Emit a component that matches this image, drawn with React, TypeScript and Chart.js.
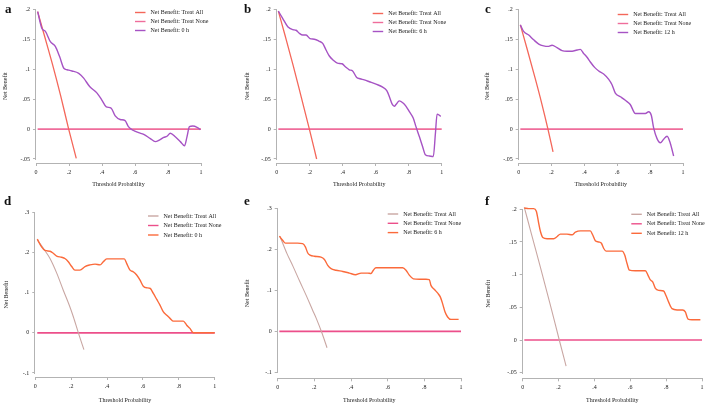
import React, { useEffect, useRef } from "react";
import { Chart, registerables } from "chart.js";
Chart.register(...registerables);

type Pt = [number, number];

const xTicks = [0, 0.2, 0.4, 0.6, 0.8, 1];
const yTicksSmall = [-0.05, 0, 0.05, 0.1, 0.15, 0.2];
const yTicksLarge = [-0.1, 0, 0.1, 0.2, 0.3];

const labelAll = "Net Benefit: Treat All";
const labelNone = "Net Benefit: Treat None";
const labelModels = ["Net Benefit: 0 h", "Net Benefit: 6 h", "Net Benefit: 12 h"];
const xTitle = "Threshold Probability";
const yTitle = "Net Benefit";

// ---- panel a (0 h) ----
const allA: Pt[] = [[0.01, 0.196], [0.05, 0.157], [0.1, 0.108], [0.15, 0.055], [0.198, 0], [0.244, -0.049]];
const noneA: Pt[] = [[0.01, 0], [1, 0]];
const modelA: Pt[] = [[0.01, 0.196], [0.036, 0.168], [0.057, 0.163], [0.087, 0.146], [0.117, 0.138], [0.143, 0.121], [0.17, 0.101], [0.188, 0.099], [0.218, 0.097], [0.259, 0.093], [0.289, 0.085], [0.325, 0.071], [0.37, 0.06], [0.4, 0.048], [0.426, 0.037], [0.455, 0.035], [0.48, 0.022], [0.51, 0.016], [0.54, 0.014], [0.56, 0.004], [0.588, -0.002], [0.622, -0.006], [0.653, -0.009], [0.693, -0.016], [0.723, -0.021], [0.75, -0.018], [0.774, -0.014], [0.794, -0.012], [0.814, -0.007], [0.844, -0.013], [0.875, -0.021], [0.9, -0.028], [0.915, -0.013], [0.93, 0.004], [0.95, 0.005], [0.976, 0.003], [0.996, -0.001]];

// ---- panel b (6 h) ----
const allB: Pt[] = [[0.01, 0.197], [0.05, 0.157], [0.1, 0.106], [0.15, 0.052], [0.198, 0], [0.242, -0.05]];
const noneB: Pt[] = [[0.01, 0], [1, 0]];
const modelB: Pt[] = [[0.01, 0.197], [0.036, 0.185], [0.067, 0.171], [0.097, 0.166], [0.117, 0.165], [0.137, 0.16], [0.158, 0.157], [0.178, 0.157], [0.202, 0.151], [0.228, 0.15], [0.255, 0.147], [0.279, 0.143], [0.299, 0.132], [0.319, 0.122], [0.343, 0.115], [0.368, 0.11], [0.396, 0.109], [0.416, 0.104], [0.44, 0.099], [0.46, 0.097], [0.485, 0.086], [0.505, 0.084], [0.531, 0.082], [0.562, 0.079], [0.602, 0.075], [0.642, 0.07], [0.667, 0.064], [0.683, 0.054], [0.699, 0.042], [0.713, 0.038], [0.723, 0.041], [0.743, 0.047], [0.764, 0.044], [0.784, 0.038], [0.804, 0.029], [0.828, 0.018], [0.844, 0.004], [0.865, -0.013], [0.885, -0.03], [0.901, -0.043], [0.925, -0.045], [0.949, -0.046], [0.962, -0.007], [0.972, 0.025], [0.986, 0.023], [0.994, 0.021]];

// ---- panel c (12 h) ----
const allC: Pt[] = [[0.01, 0.174], [0.05, 0.135], [0.1, 0.085], [0.14, 0.043], [0.178, 0], [0.209, -0.038]];
const noneC: Pt[] = [[0.01, 0], [1, 0]];
const modelC: Pt[] = [[0.01, 0.174], [0.03, 0.163], [0.061, 0.157], [0.091, 0.149], [0.122, 0.142], [0.152, 0.139], [0.178, 0.138], [0.203, 0.14], [0.233, 0.136], [0.264, 0.131], [0.294, 0.13], [0.325, 0.13], [0.355, 0.132], [0.375, 0.133], [0.396, 0.126], [0.416, 0.12], [0.436, 0.112], [0.462, 0.103], [0.487, 0.097], [0.517, 0.092], [0.548, 0.083], [0.568, 0.074], [0.588, 0.06], [0.619, 0.054], [0.649, 0.048], [0.679, 0.041], [0.71, 0.026], [0.74, 0.026], [0.771, 0.026], [0.791, 0.029], [0.807, 0.023], [0.822, 0.001], [0.842, -0.016], [0.862, -0.023], [0.882, -0.017], [0.903, -0.012], [0.923, -0.024], [0.943, -0.045]];

// ---- panel d (0 h) ----
const allD: Pt[] = [[0.011, 0.231], [0.05, 0.207], [0.082, 0.185], [0.12, 0.148], [0.156, 0.106], [0.19, 0.068], [0.212, 0.04], [0.24, 0], [0.271, -0.042]];
const noneD: Pt[] = [[0.011, 0], [1, 0]];
const modelD: Pt[] = [[0.011, 0.233], [0.035, 0.214], [0.054, 0.205], [0.082, 0.203], [0.1, 0.198], [0.119, 0.191], [0.147, 0.188], [0.165, 0.185], [0.184, 0.177], [0.203, 0.165], [0.221, 0.156], [0.249, 0.156], [0.277, 0.165], [0.305, 0.169], [0.333, 0.171], [0.361, 0.169], [0.379, 0.177], [0.398, 0.184], [0.435, 0.184], [0.472, 0.184], [0.496, 0.184], [0.509, 0.173], [0.528, 0.156], [0.546, 0.152], [0.565, 0.144], [0.584, 0.131], [0.602, 0.116], [0.621, 0.112], [0.639, 0.111], [0.658, 0.098], [0.677, 0.083], [0.695, 0.069], [0.714, 0.052], [0.732, 0.044], [0.751, 0.036], [0.77, 0.029], [0.797, 0.029], [0.825, 0.029], [0.844, 0.019], [0.862, 0.011], [0.881, 0], [0.918, 0], [1, 0]];

// ---- panel e (6 h) ----
const allE: Pt[] = [[0.012, 0.232], [0.05, 0.19], [0.083, 0.159], [0.12, 0.122], [0.156, 0.087], [0.19, 0.052], [0.211, 0.031], [0.243, -0.006], [0.269, -0.04]];
const noneE: Pt[] = [[0.009, 0], [1, 0]];
const modelE: Pt[] = [[0.009, 0.232], [0.027, 0.222], [0.042, 0.215], [0.073, 0.215], [0.109, 0.215], [0.136, 0.214], [0.151, 0.206], [0.164, 0.191], [0.176, 0.186], [0.2, 0.183], [0.236, 0.181], [0.255, 0.175], [0.273, 0.161], [0.291, 0.153], [0.318, 0.149], [0.355, 0.146], [0.391, 0.142], [0.424, 0.138], [0.455, 0.142], [0.491, 0.142], [0.509, 0.141], [0.522, 0.149], [0.536, 0.155], [0.573, 0.155], [0.627, 0.155], [0.682, 0.155], [0.7, 0.149], [0.718, 0.137], [0.74, 0.128], [0.773, 0.127], [0.809, 0.127], [0.827, 0.126], [0.836, 0.112], [0.855, 0.102], [0.873, 0.093], [0.887, 0.084], [0.9, 0.067], [0.913, 0.047], [0.927, 0.035], [0.945, 0.029], [0.973, 0.029], [0.987, 0.029]];

// ---- panel f (12 h) ----
const allF: Pt[] = [[0.009, 0.203], [0.05, 0.161], [0.1, 0.11], [0.15, 0.058], [0.204, 0], [0.242, -0.04]];
const noneF: Pt[] = [[0.009, 0], [1, 0]];
const modelF: Pt[] = [[0.009, 0.202], [0.033, 0.201], [0.061, 0.201], [0.076, 0.197], [0.089, 0.179], [0.099, 0.166], [0.112, 0.157], [0.136, 0.155], [0.173, 0.155], [0.191, 0.158], [0.21, 0.162], [0.247, 0.162], [0.275, 0.161], [0.294, 0.165], [0.322, 0.167], [0.349, 0.167], [0.377, 0.167], [0.39, 0.161], [0.405, 0.152], [0.424, 0.15], [0.439, 0.148], [0.452, 0.14], [0.465, 0.136], [0.498, 0.136], [0.535, 0.136], [0.554, 0.136], [0.569, 0.13], [0.582, 0.117], [0.595, 0.107], [0.628, 0.106], [0.665, 0.106], [0.684, 0.106], [0.699, 0.099], [0.712, 0.092], [0.725, 0.089], [0.74, 0.079], [0.758, 0.076], [0.786, 0.075], [0.799, 0.068], [0.814, 0.058], [0.833, 0.048], [0.861, 0.046], [0.892, 0.046], [0.907, 0.043], [0.922, 0.032], [0.944, 0.031], [0.991, 0.031]];

// ---- styling ----
const SERIF = '"Liberation Serif", "Times New Roman", Times, serif';
const AXIS = "#b3b3b3";
const TEXT = "#222222";
const paletteTop = { all: "#f4675a", none: "#ef6d9b", model: "#a653c4", allWidth: 1.3 };
const paletteBottom = { all: "#c9a7a3", none: "#ec4f8a", model: "#fb6a3b", allWidth: 1.1 };

const fmt = (v: number | string) => {
  const r = Math.round(Number(v) * 1000) / 1000;
  if (r === 0) return "0";
  return String(r).replace(/^(-?)0\./, "$1.");
};

const panels = [
  { letter: "a", model: modelA, all: allA, none: noneA, label: labelModels[0], pal: paletteTop, yTicks: yTicksSmall, yMin: -0.0567, yMax: 0.2,
    box: { left: 0, top: 0, width: 236, height: 200 }, pad: { left: 2.1, top: 9.3, right: 35, bottom: 12.4 }, yw: 33.9, xh: 24.6,
    legend: { x: 135, y: 12.5, gap: 9 }, letterPos: { x: 5, y: 2 } },
  { letter: "b", model: modelB, all: allB, none: noneB, label: labelModels[1], pal: paletteTop, yTicks: yTicksSmall, yMin: -0.0567, yMax: 0.2,
    box: { left: 236, top: 0, width: 236, height: 200 }, pad: { left: 7.4, top: 9.3, right: 30.3, bottom: 12.1 }, yw: 33.3, xh: 24.9,
    legend: { x: 136.7, y: 13.5, gap: 9 }, letterPos: { x: 244, y: 2 } },
  { letter: "c", model: modelC, all: allC, none: noneC, label: labelModels[2], pal: paletteTop, yTicks: yTicksSmall, yMin: -0.0567, yMax: 0.2,
    box: { left: 472, top: 0, width: 236, height: 200 }, pad: { left: 11.4, top: 9.3, right: 25, bottom: 12.1 }, yw: 35.3, xh: 24.9,
    legend: { x: 145.7, y: 14.5, gap: 9 }, letterPos: { x: 485, y: 2 } },
  { letter: "d", model: modelD, all: allD, none: noneD, label: labelModels[0], pal: paletteBottom, yTicks: yTicksLarge, yMin: -0.11, yMax: 0.3,
    box: { left: 0, top: 200, width: 236, height: 206 }, pad: { left: 2.4, top: 12.3, right: 21.3, bottom: 2.4 }, yw: 32.9, xh: 26.6,
    legend: { x: 148, y: 16, gap: 9.5 }, letterPos: { x: 4, y: 194 } },
  { letter: "e", model: modelE, all: allE, none: noneE, label: labelModels[1], pal: paletteBottom, yTicks: yTicksLarge, yMin: -0.1146, yMax: 0.3,
    box: { left: 236, top: 200, width: 236, height: 206 }, pad: { left: 8.1, top: 8.3, right: 11, bottom: 2.4 }, yw: 33.6, xh: 25.3,
    legend: { x: 151.7, y: 14, gap: 9.3 }, letterPos: { x: 244, y: 194 } },
  { letter: "f", model: modelF, all: allF, none: noneF, label: labelModels[2], pal: paletteBottom, yTicks: yTicksSmall, yMin: -0.0586, yMax: 0.2,
    box: { left: 472, top: 200, width: 236, height: 206 }, pad: { left: 13.1, top: 9.3, right: 6, bottom: 2.4 }, yw: 37.6, xh: 25.3,
    legend: { x: 159.3, y: 14.3, gap: 9.5 }, letterPos: { x: 485, y: 194 } },
];

type PanelCfg = (typeof panels)[number];

const decorPlugin = {
  id: "panelDecor",
  afterDraw(chart: any, _args: any, opts: any) {
    const { ctx, chartArea, scales } = chart;
    const y = scales.y;
    const ticks: number[] = opts.yTicks;
    const yTop = y.getPixelForValue(Math.max(...ticks));
    const yBot = y.getPixelForValue(Math.min(...ticks));
    ctx.save();
    ctx.strokeStyle = AXIS;
    ctx.lineWidth = 1;
    const xl = Math.round(chartArea.left) - 0.5;
    ctx.beginPath();
    ctx.moveTo(xl, Math.round(yTop));
    ctx.lineTo(xl, Math.round(yBot) + 1);
    ctx.stroke();
    // legend
    ctx.font = `6px ${SERIF}`;
    ctx.textBaseline = "middle";
    ctx.textAlign = "left";
    chart.data.datasets.forEach((ds: any, i: number) => {
      const yy = opts.legendY + i * opts.legendGap;
      ctx.strokeStyle = ds.borderColor;
      ctx.lineWidth = 1.4;
      ctx.beginPath();
      ctx.moveTo(opts.legendX, yy);
      ctx.lineTo(opts.legendX + 10.5, yy);
      ctx.stroke();
      ctx.fillStyle = TEXT;
      ctx.fillText(ds.label, opts.legendX + 15.5, yy);
    });
    ctx.restore();
  },
};

function Panel({ p }: { p: PanelCfg }) {
  const ref = useRef<HTMLCanvasElement | null>(null);
  useEffect(() => {
    if (!ref.current) return;
    const toPts = (arr: Pt[]) => arr.map(([x, y]) => ({ x, y }));
    const font = { family: SERIF, size: 6 };
    const chart = new Chart(ref.current, {
      type: "line",
      data: {
        datasets: [
          { label: labelAll, data: toPts(p.all), borderColor: p.pal.all, borderWidth: p.pal.allWidth, order: 1, cubicInterpolationMode: "monotone" },
          { label: labelNone, data: toPts(p.none), borderColor: p.pal.none, borderWidth: 1.7, order: 2 },
          { label: p.label, data: toPts(p.model), borderColor: p.pal.model, borderWidth: 1.4, order: 0, cubicInterpolationMode: "monotone" },
        ] as any,
      },
      options: {
        animation: false,
        responsive: false,
        devicePixelRatio: 1,
        events: [],
        layout: { padding: p.pad },
        elements: { point: { radius: 0 }, line: { fill: false } },
        datasets: { line: { clip: 6 } } as any,
        plugins: {
          legend: { display: false },
          tooltip: { enabled: false },
          panelDecor: { yTicks: p.yTicks, legendX: p.legend.x, legendY: p.legend.y, legendGap: p.legend.gap },
        } as any,
        scales: {
          x: {
            type: "linear",
            min: 0,
            max: 1,
            afterBuildTicks: (s: any) => { s.ticks = xTicks.map((v) => ({ value: v })); },
            afterFit: (s: any) => { s.height = p.xh; },
            ticks: { callback: (v: any) => fmt(v), font, color: TEXT, padding: 3, maxRotation: 0, autoSkip: false },
            grid: { display: true, drawOnChartArea: false, drawTicks: true, tickLength: 3, color: AXIS },
            border: { display: true, color: AXIS, width: 1 },
            title: { display: true, text: xTitle, font, color: TEXT, padding: 0 },
          },
          y: {
            type: "linear",
            min: p.yMin,
            max: p.yMax,
            afterBuildTicks: (s: any) => { s.ticks = p.yTicks.map((v) => ({ value: v })); },
            afterFit: (s: any) => { s.width = p.yw; },
            ticks: { callback: (v: any) => fmt(v), font, color: TEXT, padding: 3, autoSkip: false },
            grid: { display: true, drawOnChartArea: false, drawTicks: true, tickLength: 3, color: AXIS },
            border: { display: false },
            title: { display: true, text: yTitle, font, color: TEXT, padding: 0 },
          },
        } as any,
      },
      plugins: [decorPlugin as any],
    });
    return () => chart.destroy();
  }, [p]);
  return (
    <canvas
      ref={ref}
      width={p.box.width}
      height={p.box.height}
      style={{ position: "absolute", left: p.box.left, top: p.box.top, width: p.box.width, height: p.box.height, display: "block" }}
    />
  );
}

export default function App() {
  return (
    <div style={{ position: "fixed", left: 0, top: 0, width: 708, height: 406, background: "#ffffff", overflow: "hidden" }}>
      {panels.map((p) => (
        <Panel key={p.letter} p={p} />
      ))}
      {panels.map((p) => (
        <div
          key={"l" + p.letter}
          style={{
            position: "absolute",
            left: p.letterPos.x,
            top: p.letterPos.y,
            fontFamily: SERIF,
            fontWeight: "bold",
            fontSize: 13,
            lineHeight: "13px",
            color: "#111",
          }}
        >
          {p.letter}
        </div>
      ))}
    </div>
  );
}
